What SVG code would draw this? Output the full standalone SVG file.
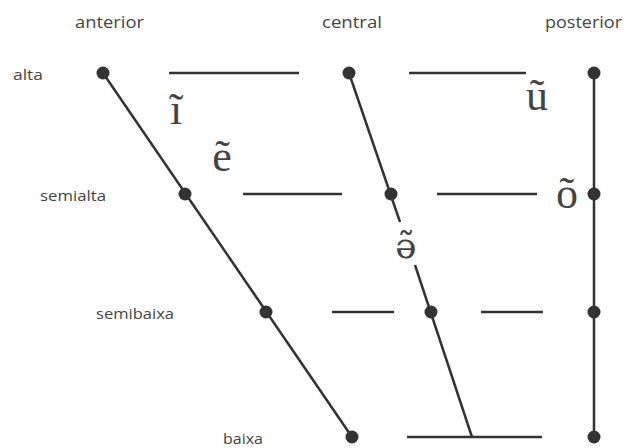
<svg xmlns="http://www.w3.org/2000/svg" width="625" height="448" viewBox="0 0 625 448">
<style>
.ln{stroke:#333;stroke-width:2.5;fill:none;stroke-linecap:butt}
.dot{fill:#333}
.lab{font-family:"Open Sans","Liberation Sans",sans-serif;fill:#444}
.hd{font-size:16px}
.ht{font-size:14px}
.v{font-family:"Liberation Serif","DejaVu Serif",serif;font-size:44px;fill:#444;text-anchor:middle}
.vs{font-family:"DejaVu Serif",serif;font-size:36px;fill:#444;text-anchor:middle}
</style>
<rect width="625" height="448" fill="#fff"/>
<g id="headers" class="lab hd">
<text x="75" y="28" textLength="69" lengthAdjust="spacingAndGlyphs">anterior</text>
<text x="322" y="28" textLength="60" lengthAdjust="spacingAndGlyphs">central</text>
<text x="545" y="28" textLength="77" lengthAdjust="spacingAndGlyphs">posterior</text>
</g>
<g id="heights" class="lab ht">
<text x="13" y="80" textLength="30" lengthAdjust="spacingAndGlyphs">alta</text>
<text x="40" y="201" textLength="66" lengthAdjust="spacingAndGlyphs">semialta</text>
<text x="96" y="319" textLength="78" lengthAdjust="spacingAndGlyphs">semibaixa</text>
<text x="223" y="444" textLength="40" lengthAdjust="spacingAndGlyphs">baixa</text>
</g>
<g id="connectors">
<line class="ln" x1="103" y1="73" x2="352" y2="437"/>
<line class="ln" x1="349" y1="73" x2="400" y2="222"/>
<line class="ln" x1="415" y1="265" x2="472" y2="437"/>
<line class="ln" x1="594" y1="73" x2="594" y2="437"/>
<line class="ln" x1="169" y1="73" x2="299" y2="73"/>
<line class="ln" x1="409" y1="73" x2="526" y2="73"/>
<line class="ln" x1="243" y1="194" x2="342" y2="194"/>
<line class="ln" x1="437" y1="194" x2="537" y2="194"/>
<line class="ln" x1="332" y1="312" x2="394" y2="312"/>
<line class="ln" x1="481" y1="312" x2="543" y2="312"/>
<line class="ln" x1="407" y1="437" x2="542" y2="437"/>
</g>
<g id="front-dots">
<circle class="dot" cx="103" cy="73" r="6.5"/>
<circle class="dot" cx="185" cy="194" r="6.5"/>
<circle class="dot" cx="266" cy="312" r="6.5"/>
<circle class="dot" cx="352" cy="437" r="6.5"/>
</g>
<g id="central-dots">
<circle class="dot" cx="349" cy="73" r="6.5"/>
<circle class="dot" cx="391" cy="194" r="6.5"/>
<circle class="dot" cx="431" cy="312" r="6.5"/>
</g>
<g id="back-dots">
<circle class="dot" cx="594" cy="73" r="6.5"/>
<circle class="dot" cx="594" cy="194" r="6.5"/>
<circle class="dot" cx="594" cy="312" r="6.5"/>
<circle class="dot" cx="594" cy="437" r="6.5"/>
</g>
<g id="vowel-i"><text class="v" x="176" y="124">ĩ</text></g>
<g id="vowel-e"><text class="v" x="222" y="171">ẽ</text></g>
<g id="vowel-u"><text class="v" x="537" y="110">ũ</text></g>
<g id="vowel-o"><text class="v" x="567" y="208">õ</text></g>
<g id="vowel-schwa"><text class="vs" x="406" y="258">ə̃</text></g>
</svg>
